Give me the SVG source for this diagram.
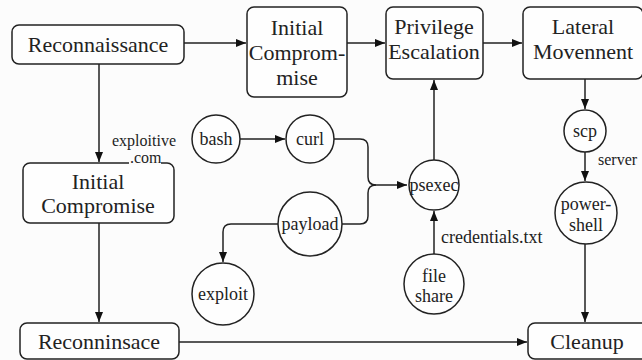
<svg xmlns="http://www.w3.org/2000/svg" width="642" height="360" viewBox="0 0 642 360">
<style>
.box{fill:#fefefe;stroke:#222;stroke-width:1.5}
.c{fill:#fefefe;stroke:#222;stroke-width:1.5}
.t{font-family:"Liberation Serif","DejaVu Serif",serif;font-size:22px;fill:#222;text-anchor:middle}
.s{font-family:"Liberation Serif","DejaVu Serif",serif;font-size:18px;fill:#222;text-anchor:middle}
.l{font-family:"Liberation Serif","DejaVu Serif",serif;font-size:16px;fill:#222}
.e{fill:none;stroke:#222;stroke-width:1.5}
</style>
<defs>
<marker id="a" viewBox="0 0 10 8" refX="10" refY="4" markerWidth="10" markerHeight="8" markerUnits="userSpaceOnUse" orient="auto">
<path d="M0,0 L10,4 L0,8 z" fill="#111"/>
</marker>
</defs>
<rect width="642" height="360" fill="#fcfcfc"/>
<g id="connectors">
<path class="e" d="M184,43 H246" marker-end="url(#a)"/>
<path class="e" d="M347,43 H385" marker-end="url(#a)"/>
<path class="e" d="M483,43 H522" marker-end="url(#a)"/>
<path class="e" d="M99,64 V162" marker-end="url(#a)"/>
<path class="e" d="M99,223 V322" marker-end="url(#a)"/>
<path class="e" d="M179,342 H527" marker-end="url(#a)"/>
<path class="e" d="M240,139 H285" marker-end="url(#a)"/>
<path class="e" d="M334,139 H360 Q368,139 368,147 V177 Q368,185 376,185 H407" marker-end="url(#a)"/>
<path class="e" d="M342,224 H360 Q368,224 368,216 V193 Q368,185 376,185"/>
<path class="e" d="M278,224 H231 Q223,224 223,232 V262" marker-end="url(#a)"/>
<path class="e" d="M434,160 V80" marker-end="url(#a)"/>
<path class="e" d="M434,254 V211" marker-end="url(#a)"/>
<path class="e" d="M585,79 V109" marker-end="url(#a)"/>
<path class="e" d="M585,152 V181" marker-end="url(#a)"/>
<path class="e" d="M585,244 V322" marker-end="url(#a)"/>
<text class="l" x="112" y="146">exploitive</text>
<text class="l" x="441" y="243" style="font-size:18px">credentials.txt</text>
<text class="l" x="598" y="165">server</text>
</g>
<g id="reconnaissance">
<rect class="box" x="12" y="25" width="172" height="39" rx="7"/>
<text class="t" x="98" y="52">Reconnaissance</text>
</g>
<g id="initial-compromise-top">
<rect class="box" x="247" y="7" width="100" height="90" rx="7"/>
<text class="t" x="297" y="35">Initial</text>
<text class="t" x="297" y="60">Comprom-</text>
<text class="t" x="297" y="85">mise</text>
</g>
<g id="privilege-escalation">
<rect class="box" x="386" y="7" width="97" height="72" rx="7"/>
<text class="t" x="434" y="34">Privilege</text>
<text class="t" x="434" y="59">Escalation</text>
</g>
<g id="lateral-movement">
<rect class="box" x="523" y="7" width="120" height="72" rx="7"/>
<text class="t" x="583" y="34">Lateral</text>
<text class="t" x="583" y="59">Movennent</text>
</g>
<g id="initial-compromise-left">
<rect class="box" x="23" y="163" width="151" height="60" rx="7"/>
<rect x="129" y="153" width="32" height="12" fill="#fcfcfc"/>
<text class="l" x="130" y="163">.com</text>
<text class="t" x="98" y="189">Initial</text>
<text class="t" x="98" y="213">Compromise</text>
</g>
<g id="reconninsace">
<rect class="box" x="20" y="323" width="159" height="36" rx="7"/>
<text class="t" x="99" y="349">Reconninsace</text>
</g>
<g id="cleanup">
<rect class="box" x="528" y="323" width="120" height="36" rx="7"/>
<text class="t" x="587" y="349">Cleanup</text>
</g>
<g id="bash">
<circle class="c" cx="216" cy="139" r="24"/>
<text class="s" x="216" y="145">bash</text>
</g>
<g id="curl">
<circle class="c" cx="310" cy="139" r="24"/>
<text class="s" x="310" y="145">curl</text>
</g>
<g id="psexec">
<circle class="c" cx="434" cy="185" r="25"/>
<text class="s" x="434" y="191">psexec</text>
</g>
<g id="payload">
<circle class="c" cx="310" cy="224" r="32"/>
<text class="s" x="310" y="230">payload</text>
</g>
<g id="exploit">
<circle class="c" cx="223" cy="294" r="31"/>
<text class="s" x="223" y="300">exploit</text>
</g>
<g id="file-share">
<circle class="c" cx="434" cy="284" r="30"/>
<text class="s" x="434" y="282">file</text>
<text class="s" x="434" y="302">share</text>
</g>
<g id="scp">
<circle class="c" cx="585" cy="131" r="21"/>
<text class="s" x="585" y="137">scp</text>
</g>
<g id="powershell">
<circle class="c" cx="586" cy="213" r="31"/>
<text class="s" x="586" y="210">power-</text>
<text class="s" x="586" y="231">shell</text>
</g>
</svg>
